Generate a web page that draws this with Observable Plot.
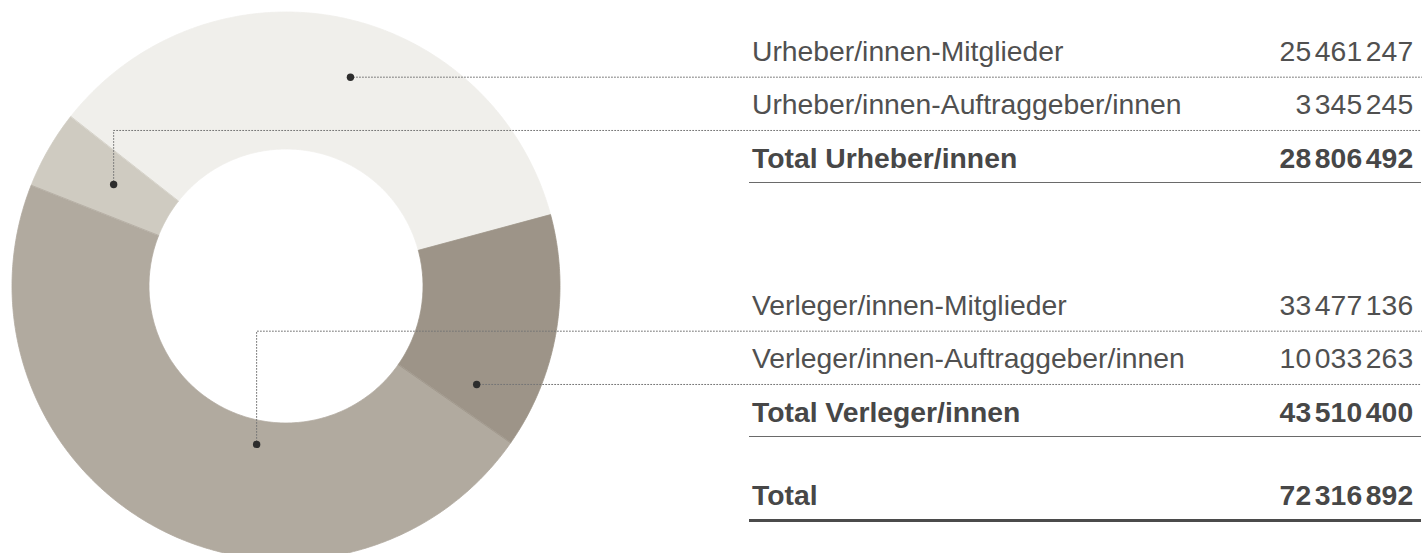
<!DOCTYPE html>
<html>
<head>
<meta charset="utf-8">
<script src="https://cdn.jsdelivr.net/npm/d3@7"></script>
<script src="https://cdn.jsdelivr.net/npm/@observablehq/plot@0.6"></script>
<style>
  html, body { margin: 0; padding: 0; background: #fff; overflow: hidden; }
  #chart { position: relative; width: 1423px; height: 553px; overflow: hidden;
           font-family: "Liberation Sans", Arial, sans-serif; }
  #chart svg { position: absolute; left: 0; top: 0; }
  .tbl { position: absolute; left: 749px; width: 672px; top: 23.4px; color: #505050; font-size: 28.3px; }
  .row { height: 53.3px; box-sizing: border-box; display: flex; justify-content: space-between;
         align-items: flex-end; padding: 0 7.5px 11.5px 3px; line-height: 28px; white-space: nowrap; }
  .row.total { font-weight: bold; color: #474747; border-bottom: 1.5px solid #6a6a6a; padding-bottom: 10.5px; }
  .row.grand { border-bottom: 3px solid #4b4b4b; padding-bottom: 9.5px; }
  .num { letter-spacing: 0.2px; }
  .gs { font-size: 16px; line-height: 0; letter-spacing: 0; }
  .gap1 { height: 94.1px; }
  .gap2 { height: 31.1px; }
</style>
</head>
<body>
<div id="chart"></div>
<script>
// ---- data ----
const categories = [
  "Urheber/innen-Mitglieder",
  "Urheber/innen-Auftraggeber/innen",
  "Verleger/innen-Mitglieder",
  "Verleger/innen-Auftraggeber/innen"
];
const values = [25461247, 3345245, 33477136, 10033263];
const totalLabels = ["Total Urheber/innen", "Total Verleger/innen", "Total"];
const totalValues = [28806492, 43510400, 72316892];

// ---- styles / layout ----
const colors = ["#f0efeb", "#cfcbc1", "#b1aa9f", "#9d9488"];
const W = 1423, H = 553, CX = 285.5, CY = 285.5, RPX = 274;
const R_OUT = 1, R_IN = 0.5;
const START_DEG = 434.9; // rotation of the ring (pie runs counter-clockwise from here)
const anchors = [ // leader-dot placement inside each slice (angle cw from top, radius fraction)
  {angle: 17.1,  r: 0.800, elbow: false},
  {angle: 300.5, r: 0.730, elbow: true},
  {angle: 190.5, r: 0.588, elbow: true},
  {angle: 117.0, r: 0.781, elbow: false}
];

// ---- table (legend) ----
const chart = document.getElementById("chart");
const tbl = document.createElement("div");
tbl.className = "tbl";
function numberNode(v) {
  const span = document.createElement("span");
  span.className = "num";
  const parts = d3.format(",")(v).split(",");
  parts.forEach((p, i) => {
    if (i > 0) {
      const g = document.createElement("span");
      g.className = "gs";
      g.textContent = "\u2009";
      span.append(g);
    }
    span.append(document.createTextNode(p));
  });
  return span;
}
function addRow(label, value, cls) {
  const r = document.createElement("div");
  r.className = "row" + (cls ? " " + cls : "");
  const a = document.createElement("span"); a.textContent = label;
  r.append(a, numberNode(value));
  tbl.append(r);
  return r;
}
function addGap(cls) { const g = document.createElement("div"); g.className = cls; tbl.append(g); }
const memberRows = [];
memberRows.push(addRow(categories[0], values[0]));
memberRows.push(addRow(categories[1], values[1]));
addRow(totalLabels[0], totalValues[0], "total");
addGap("gap1");
memberRows.push(addRow(categories[2], values[2]));
memberRows.push(addRow(categories[3], values[3]));
addRow(totalLabels[1], totalValues[1], "total");
addGap("gap2");
addRow(totalLabels[2], totalValues[2], "total grand");
chart.append(tbl);

const cRect = chart.getBoundingClientRect();
const tRect = tbl.getBoundingClientRect();
const rowY = memberRows.map(r => (CY - (r.getBoundingClientRect().bottom - cRect.top)) / RPX);
const xEnd = (tRect.right - cRect.left - CX) / RPX;

// ---- ring slices ----
const rad = Math.PI / 180;
const pie = d3.pie().sort(null).value(d => d.value)
  .startAngle(START_DEG * rad).endAngle(START_DEG * rad - 2 * Math.PI);
const arcs = pie(categories.map((label, i) => ({label, value: values[i]})));
const slicePts = arcs.flatMap(a => {
  const n = Math.max(2, Math.ceil(Math.abs(a.endAngle - a.startAngle) / (0.5 * rad)));
  const ts = d3.range(n + 1).map(i => a.startAngle + (a.endAngle - a.startAngle) * i / n);
  return [
    ...ts.map(t => ({key: a.data.label, x: Math.sin(t) * R_OUT, y: Math.cos(t) * R_OUT})),
    ...ts.slice().reverse().map(t => ({key: a.data.label, x: Math.sin(t) * R_IN, y: Math.cos(t) * R_IN}))
  ];
});

// ---- leaders ----
const dots = anchors.map((a, i) => ({
  key: categories[i],
  x: Math.sin(a.angle * rad) * a.r,
  y: a.elbow ? Math.cos(a.angle * rad) * a.r : rowY[i]
}));
const leaderPts = dots.flatMap((d, i) => [
  {key: d.key, x: d.x, y: d.y},
  {key: d.key, x: d.x, y: rowY[i]},
  {key: d.key, x: xEnd, y: rowY[i]}
]);

const svg = Plot.plot({
  width: W, height: H,
  margin: 0,
  style: {overflow: "hidden", background: "transparent"},
  x: {domain: [-CX / RPX, (W - CX) / RPX], range: [0, W], axis: null},
  y: {domain: [-(H - CY) / RPX, CY / RPX], range: [H, 0], axis: null},
  color: {domain: categories, range: colors},
  marks: [
    Plot.line(slicePts, {x: "x", y: "y", z: "key", fill: "key", stroke: "key", strokeWidth: 0.8, curve: "linear-closed"}),
    Plot.line(leaderPts, {x: "x", y: "y", z: "key", stroke: "#767676", strokeWidth: 1, strokeDasharray: "1,2"}),
    Plot.dot(dots, {x: "x", y: "y", r: 3.7, fill: "#2d2d2d", stroke: "none"})
  ]
});
chart.insertBefore(svg, tbl);
</script>
</body>
</html>
